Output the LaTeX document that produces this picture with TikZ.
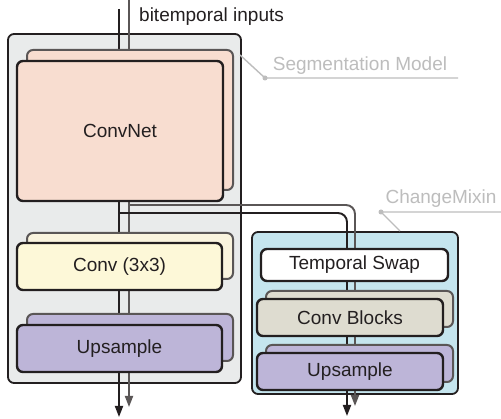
\documentclass[tikz,border=0pt]{standalone}
\usepackage{fontspec}
\setmainfont{Liberation Sans}
\usetikzlibrary{arrows.meta}
\definecolor{ink}{HTML}{231F20}
\definecolor{gline}{HTML}{5A5656}
\definecolor{lbl}{HTML}{BDBDBD}
\definecolor{outerfill}{HTML}{E9EBEB}
\definecolor{mixfill}{HTML}{C5E5EE}
\definecolor{convnetc}{HTML}{F8DDD0}
\definecolor{convc}{HTML}{FDF8D8}
\definecolor{convbackc}{HTML}{FAF4DE}
\definecolor{upc}{HTML}{BDB5D8}
\definecolor{blockc}{HTML}{DEDCD0}
\tikzset{
  container/.style={draw=ink, line width=1.8pt, rounded corners=6pt, inner sep=0pt},
  frontbox/.style={draw=ink, line width=2.4pt, rounded corners=6pt, inner sep=0pt, text=ink, font=\fontsize{19}{23}\selectfont},
  backbox/.style={draw=gline, line width=2pt, rounded corners=6pt, inner sep=0pt},
  darkline/.style={draw=ink, line width=1.9pt},
  grayline/.style={draw=gline, line width=1.9pt},
  darkarrow/.style={darkline, -{Triangle[length=11pt,width=8pt]}},
  grayarrow/.style={grayline, -{Triangle[length=11pt,width=8pt]}},
  leader/.style={draw=lbl, line width=1.4pt},
  lbltext/.style={text=lbl, font=\fontsize{19}{23}\selectfont, inner sep=0pt},
}
\begin{document}
\begin{tikzpicture}[x=1pt,y=-1pt]
\useasboundingbox[fill=white] (0,0) rectangle (501,419);
% containers
\node[container, fill=outerfill, minimum width=233pt, minimum height=349pt] (seg) at (124.5,208.5) {};
\node[container, fill=mixfill, minimum width=206pt, minimum height=162pt] (mix) at (355,313) {};
% coordinates
\coordinate (inG) at (129,0);
\coordinate (inD) at (119,9);
\coordinate (brG) at (129,205);
\coordinate (brD) at (119,213);
\coordinate (outLD) at (119,417);
\coordinate (outLG) at (129,407);
\coordinate (rD) at (347,249);
\coordinate (rG) at (355,249);
\coordinate (outRD) at (347,416);
\coordinate (outRG) at (355,406);
% connectors (drawn before boxes)
\draw[grayline] (inG) -- (outLG |- 0,380);
\draw[grayarrow] (129,370) -- (outLG);
\draw[darkline] (inD) -- (119,380);
\draw[darkarrow] (119,370) -- (outLD);
\draw[grayline, rounded corners=9pt] (brG) -- (rG |- brG) -- (355,300);
\draw[grayline] (355,280) -- (355,390);
\draw[grayarrow] (355,380) -- (outRG);
\draw[darkline, rounded corners=9pt] (brD) -- (rD |- brD) -- (347,300);
\draw[darkline] (347,280) -- (347,390);
\draw[darkarrow] (347,380) -- (outRD);
% left column
\node[backbox, fill=convnetc, minimum width=206pt, minimum height=140pt] (convnetB) at (130,120) {};
\node[frontbox, fill=convnetc, minimum width=206pt, minimum height=140pt] (convnet) at (120,131) {ConvNet};
\node[backbox, fill=convbackc, minimum width=206pt, minimum height=46pt] (convB) at (130,256) {};
\node[frontbox, fill=convc, minimum width=205pt, minimum height=47pt] (conv) at (119.5,266.5) {Conv (3x3)};
\node[backbox, fill=upc, minimum width=206pt, minimum height=47pt] (upLB) at (130,337.5) {};
\node[frontbox, fill=upc, minimum width=205pt, minimum height=47pt] (upL) at (119.5,348.5) {Upsample};
% right column
\node[frontbox, fill=white, minimum width=187pt, minimum height=32pt] (swap) at (354.5,265) {Temporal Swap};
\node[backbox, fill=blockc, minimum width=187pt, minimum height=36pt] (blocksB) at (359.5,309) {};
\node[frontbox, fill=blockc, minimum width=186pt, minimum height=37pt] (blocks) at (350,317.5) {Conv Blocks};
\node[backbox, fill=upc, minimum width=187pt, minimum height=37pt] (upRB) at (359.5,363.5) {};
\node[frontbox, fill=upc, minimum width=186pt, minimum height=37pt] (upR) at (350,371.5) {Upsample};
% labels
\node[anchor=west, inner sep=0pt, text=ink, font=\fontsize{19}{23}\selectfont] (inlbl) at (139,17) {bitemporal inputs};
\node[lbltext] (seglbl) at (360,66) {Segmentation Model};
\coordinate (segdot) at (265,78);
\coordinate (segend) at (458,78);
\draw[leader] (240,55) -- (segdot) -- (segend);
\fill[lbl] (segdot) circle (2.5pt);
\node[lbltext] (mixlbl) at (441,199) {ChangeMixin};
\coordinate (mixdot) at (381,212);
\coordinate (mixend) at (501,212);
\draw[leader] (400,231) -- (mixdot) -- (mixend);
\fill[lbl] (mixdot) circle (2.5pt);
\end{tikzpicture}
\end{document}
